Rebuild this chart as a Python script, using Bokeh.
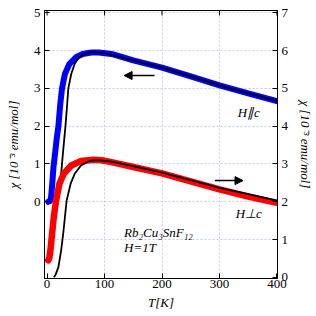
import math
from bokeh.plotting import figure
from bokeh.models import (Range1d, LinearAxis, FixedTicker, Arrow, NormalHead, Label)
from bokeh.embed import file_html
from bokeh.resources import INLINE

# H // c data (left axis, 10^-3 emu/mol)
T_par = [2, 5, 7, 9, 11, 14.5, 17, 19.7, 23, 26, 31, 39, 51, 62, 77, 90, 112, 150, 200, 250, 300, 350, 400]
chi_par = [0.0, 0.02, 0.12, 0.48, 0.9, 1.36, 1.7, 2.0, 2.59, 3.0, 3.38, 3.65, 3.83, 3.91, 3.95, 3.95, 3.91, 3.74, 3.55, 3.32, 3.08, 2.87, 2.66]
# fit for H // c
T_par_fit = [15, 18, 23, 28, 32, 35, 37, 42, 48, 56, 71, 82, 100, 150, 200, 250, 300, 350, 400]
chi_par_fit = [0.0, 0.08, 0.48, 1.36, 2.0, 2.59, 3.0, 3.38, 3.65, 3.83, 3.94, 3.96, 3.93, 3.74, 3.55, 3.32, 3.08, 2.87, 2.67]

# H perp c data (right axis, 10^-3 emu/mol)
T_perp = [2, 4, 5.8, 8.7, 11.6, 15.7, 21.5, 29, 42, 59, 80, 95, 112, 150, 200, 250, 300, 350, 400]
chi_perp = [0.45, 0.52, 0.71, 1.15, 1.59, 2.03, 2.48, 2.74, 2.96, 3.08, 3.11, 3.1, 3.05, 2.92, 2.75, 2.54, 2.33, 2.14, 1.97]
# fit for H perp c
T_perp_fit = [12, 15, 19.7, 24.4, 28, 31, 34, 41, 48, 59, 74, 88, 112, 150, 200, 250, 300, 350, 400]
chi_perp_fit = [0.0, 0.08, 0.27, 0.71, 1.15, 1.59, 2.03, 2.48, 2.74, 2.96, 3.08, 3.1, 3.06, 2.94, 2.77, 2.57, 2.37, 2.2, 2.03]

x_ticks = [0, 100, 200, 300, 400]
left_ticks = [0, 1, 2, 3, 4, 5]
right_ticks = [0, 1, 2, 3, 4, 5, 6, 7]

FONT = "Liberation Serif"
Y_TOP = 5.06
YLABEL = "\u03c7 [10\u207b\u00b3 emu/mol]"

p = figure(width=316, height=316, output_backend="svg", toolbar_location=None,
           x_range=Range1d(-4.5, 401), y_range=Range1d(-2.03, Y_TOP),
           min_border_left=44, min_border_right=39, min_border_top=10, min_border_bottom=38,
           background_fill_color="white", border_fill_color="white")
p.extra_y_ranges = {"right": Range1d(-0.03, Y_TOP + 2)}
p.outline_line_color = "black"
p.outline_line_width = 1

# grids
p.xgrid.ticker = FixedTicker(ticks=[100, 200, 300])
p.ygrid.ticker = FixedTicker(ticks=[-1, 0, 1, 2, 3, 4, 5])
for g in (p.xgrid, p.ygrid):
    g.grid_line_color = "#c4ccf4"
    g.grid_line_dash = "2 2"
    g.grid_line_width = 1

def style_axis(ax, ticks):
    ax.ticker = FixedTicker(ticks=ticks)
    ax.major_tick_in = 5
    ax.major_tick_out = 0
    ax.minor_tick_in = 0
    ax.minor_tick_out = 0
    ax.axis_line_color = "black"
    ax.major_tick_line_color = "black"
    ax.major_label_text_font = FONT
    ax.major_label_text_font_size = "13px"
    ax.major_label_text_color = "black"
    ax.axis_label_text_font = FONT
    ax.axis_label_text_font_style = "italic"
    ax.axis_label_text_font_size = "13px"
    ax.axis_label_text_color = "black"

xa = p.xaxis[0]
style_axis(xa, x_ticks)
xa.axis_label = "T[K]"
xa.major_label_standoff = 1
xa.axis_label_standoff = 4

ya = p.yaxis[0]
style_axis(ya, left_ticks)
ya.axis_label = YLABEL
ya.major_label_standoff = 4
ya.axis_label_standoff = 10

ra = LinearAxis(y_range_name="right")
style_axis(ra, right_ticks)
ra.axis_label = YLABEL
ra.major_label_standoff = 4
ra.axis_label_standoff = 7
p.add_layout(ra, "right")

# inward ticks along the top edge
p.scatter(x_ticks, [Y_TOP] * len(x_ticks), marker="dash", size=10, angle=math.pi / 2,
          line_color="black", line_width=1)

# data bands + fits
p.line(T_par, chi_par, line_color="#0000ff", line_width=6, line_cap="round", line_join="round")
p.line(T_par_fit, chi_par_fit, line_color="black", line_width=1.8, line_join="round")
p.line(T_perp, chi_perp, line_color="#ff0000", line_width=6.5, line_cap="round", line_join="round",
       y_range_name="right")
p.line(T_perp_fit, chi_perp_fit, line_color="black", line_width=1.8, line_join="round",
       y_range_name="right")

# arrows
p.add_layout(Arrow(end=NormalHead(size=8, fill_color="black", line_color="black"),
                   x_start=187, y_start=3.34, x_end=134, y_end=3.34,
                   line_color="black", line_width=1.5))
p.add_layout(Arrow(end=NormalHead(size=8, fill_color="black", line_color="black"),
                   x_start=292, y_start=2.56, x_end=341, y_end=2.56,
                   line_color="black", line_width=1.5, y_range_name="right"))

def lab(x, y, t, align="center", size="13px"):
    p.add_layout(Label(x=x, y=y, text=t, text_font=FONT, text_font_style="italic",
                       text_font_size=size, text_color="black", text_align=align,
                       text_baseline="middle"))

lab(351, 2.36, "H\u2225c")
lab(351, -0.31, "H\u22a5c")
lab(134, -0.81, "Rb\u2082Cu\u2083SnF\u2081\u2082", align="left")
lab(134, -1.22, "H=1T", align="left")

open("out.html", "w").write(file_html(p, INLINE))
